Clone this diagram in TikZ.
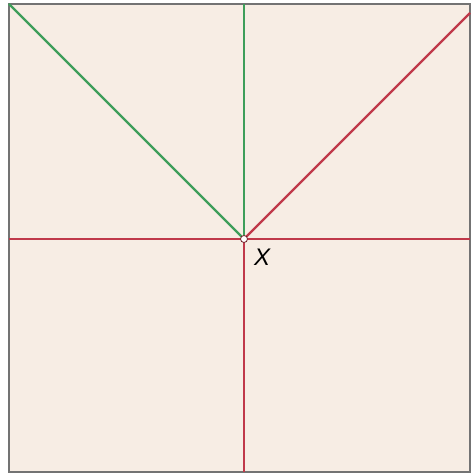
\documentclass[tikz,border=0pt]{standalone}
\usepackage{fontspec}
\setsansfont{Liberation Sans}
\begin{document}
\begin{tikzpicture}[x=0.5pt,y=-0.5pt,
  frame/.style={draw=black!55, line width=1pt, fill=bgbeige},
  greenline/.style={draw=lgreen, line width=1.1pt},
  redline/.style={draw=lred, line width=1.1pt},
  dotnode/.style={circle, draw=lred!60!black, fill=white, line width=0.4pt, inner sep=0pt, minimum size=3.5pt},
  lbl/.style={font=\sffamily\itshape\fontsize{12}{12}\selectfont, inner sep=0pt}]
\definecolor{bgbeige}{HTML}{F7EDE4}
\definecolor{lgreen}{HTML}{3E9E5A}
\definecolor{lred}{HTML}{C0394A}
\useasboundingbox (0,0) rectangle (470,475);
\coordinate (tl) at (9,4);
\coordinate (br) at (470,472);
\path[frame] (tl) rectangle (br);
\coordinate (c) at (244,239);
\coordinate (top) at (244,4);
\coordinate (bot) at (244,472);
\coordinate (left) at (9,239);
\coordinate (right) at (470,239);
\coordinate (ur) at (470,13);
\draw[redline] (left) -- (right);
\draw[redline] (c) -- (bot);
\draw[redline] (c) -- (ur);
\draw[greenline] (c) -- (top);
\draw[greenline] (c) -- (tl);
\node[dotnode] (x) at (c) {};
\node[lbl] (xl) at (262,257) {X};
\end{tikzpicture}
\end{document}
